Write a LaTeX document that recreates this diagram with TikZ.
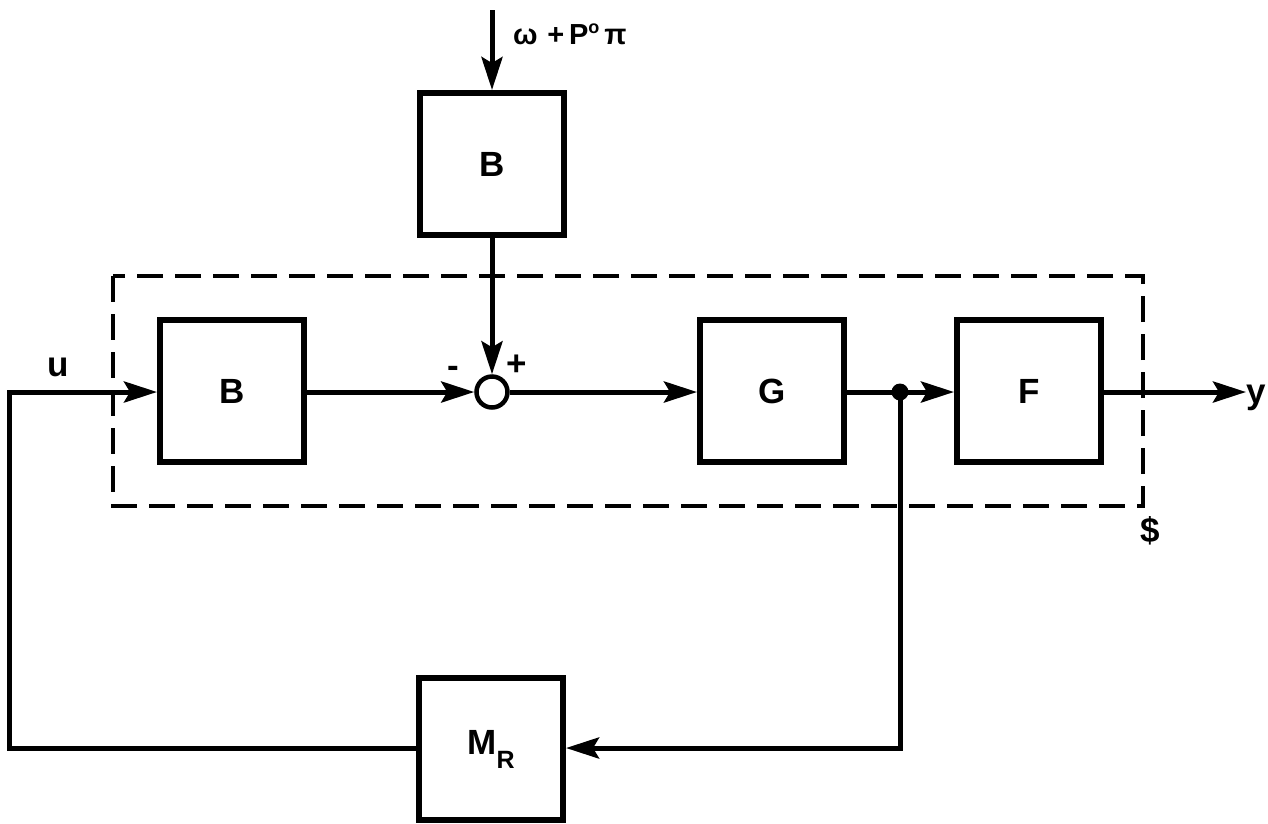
\documentclass[tikz,border=0pt]{standalone}
\usepackage{fontspec}
\setmainfont{Liberation Sans}
\usetikzlibrary{arrows.meta}
\begin{document}
\begin{tikzpicture}[x=1pt,y=-1pt,
  blk/.style={draw,line width=6pt,minimum width=144pt,minimum height=142pt,inner sep=0pt,font=\fontsize{35}{35}\selectfont\bfseries},
  wire/.style={line width=5pt},
  arr/.style={wire,-{Stealth[length=33pt,width=21pt,inset=6pt]}},
  lbl/.style={font=\fontsize{35}{35}\selectfont\bfseries,inner sep=0pt},
  dashbox/.style={line width=4.5pt,dash pattern=on 26pt off 12pt}]
\useasboundingbox (0,0) rectangle (1268,823);
\fill[white] (0,0) rectangle (1268,823);
% dashed enclosure
\draw[dashbox] (113,276) rectangle (1143,506);
% blocks
\node[blk] (Btop) at (492,164) {B};
\node[blk] (B) at (232,391) {B};
\node[blk] (G) at (772,391) {G};
\node[blk] (F) at (1029,391) {F};
\node[blk] (MR) at (491,749) {M\raisebox{-14pt}{\fontsize{25}{25}\selectfont R}};
\node[draw,circle,line width=4.5pt,minimum size=31pt,inner sep=0pt] (S) at (492,392) {};
\fill (900,392) circle (8.5pt) coordinate (J);
% coordinates
\coordinate (in) at (492,10);
\coordinate (u0) at (9,392);
\coordinate (ul) at (9,748);
\coordinate (jr) at (900,748);
\coordinate (yout) at (1246,392);
% connectors
\draw[arr] (in) -- (Btop.north);
\draw[arr] (Btop.south) -- (S.north);
\draw[arr,line join=miter] (MR.west |- ul) -- (ul) -- (u0) -- (B.west |- u0);
\draw[arr] (B.east |- S) -- (S.west);
\draw[arr] (S.east) -- (G.west |- S);
\draw[wire] (G.east |- J) -- (J);
\draw[arr] (J) -- (F.west |- J);
\draw[arr] (F.east |- J) -- (yout);
\draw[arr,line join=miter] (J) -- (jr) -- (MR.east |- jr);
% labels
\node[lbl,anchor=west,font=\fontsize{29}{29}\selectfont\bfseries] (lin) at (513,34) {ω\,\,+\,P\raisebox{11pt}{\fontsize{18}{18}\selectfont o}\,π};
\node[lbl] (lu) at (58,367) {u};
\node[lbl] (lminus) at (453,372) {-};
\node[lbl] (lplus) at (517,365) {+};
\node[lbl,anchor=base west] (ly) at (1246,403) {y};
\node[lbl] (ls) at (1150,531) {\$};
\end{tikzpicture}
\end{document}
